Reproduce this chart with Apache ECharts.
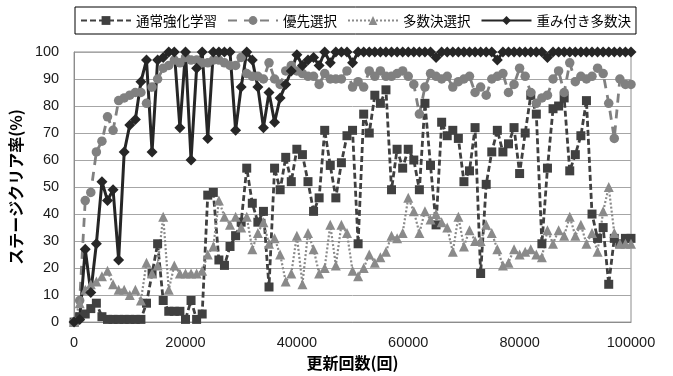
<!DOCTYPE html>
<html>
<head>
<meta charset="utf-8">
<script src="https://cdn.jsdelivr.net/npm/echarts@6/dist/echarts.min.js"></script>
<style>
html,body{margin:0;padding:0;background:#fff;}
#c{width:673px;height:376px;}
</style>
</head>
<body>
<div id="c"></div>
<script>
// x positions: update counts 0..100000 every 1000
const updates = Array.from({length: 101}, (_, i) => i * 1000);
const xTicks = [0, 20000, 40000, 60000, 80000, 100000];
const yTicks = [0, 10, 20, 30, 40, 50, 60, 70, 80, 90, 100];
const seriesNames = ['通常強化学習', '優先選択', '多数決選択', '重み付き多数決'];

const normalRL = [
  0, 2, 3, 5, 7, 2, 1, 1, 1, 1,
  1, 1, 1, 7, 18, 29, 8, 4, 4, 4,
  1, 8, 1, 3, 47, 48, 23, 21, 28, 32,
  37, 57, 44, 37, 41, 13, 57, 49, 61, 52,
  64, 62, 52, 41, 46, 71, 58, 46, 59, 69,
  71, 29, 77, 70, 84, 81, 86, 49, 64, 57,
  64, 60, 49, 81, 58, 36, 74, 69, 71, 68,
  52, 56, 72, 18, 51, 63, 71, 63, 66, 72,
  55, 70, 84, 77, 29, 57, 79, 80, 83, 56,
  62, 69, 82, 40, 31, 35, 14, 31, 29, 31,
  31
];
const priority = [
  0, 8, 45, 48, 63, 67, 76, 71, 82, 83,
  84, 85, 85, 81, 87, 90, 94, 95, 97, 96,
  98, 97, 97, 96, 96, 97, 97, 96, 95, 95,
  98, 92, 91, 91, 90, 96, 90, 88, 93, 95,
  93, 92, 91, 91, 88, 92, 90, 90, 90, 93,
  87, 89, 87, 93, 91, 93, 91, 91, 92, 93,
  91, 88, 77, 87, 92, 91, 90, 91, 87, 89,
  90, 91, 85, 87, 84, 90, 91, 92, 85, 88,
  94, 91, 85, 81, 83, 84, 90, 93, 85, 96,
  89, 91, 90, 91, 94, 92, 81, 68, 90, 88,
  88
];
const majority = [
  0, 7, 12, 14, 15, 17, 19, 14, 12, 12,
  10, 12, 8, 22, 18, 21, 39, 12, 21, 18,
  18, 18, 18, 19, 25, 28, 45, 39, 36, 39,
  35, 39, 27, 33, 37, 29, 31, 25, 15, 18,
  32, 14, 33, 27, 18, 20, 36, 21, 36, 33,
  19, 17, 20, 25, 22, 24, 26, 32, 31, 33,
  46, 41, 33, 41, 38, 40, 37, 35, 26, 39,
  28, 34, 30, 30, 36, 33, 27, 21, 22, 27,
  25, 26, 27, 25, 24, 34, 29, 34, 32, 39,
  32, 36, 29, 33, 26, 41, 50, 33, 29, 29,
  29
];
const weighted = [
  0, 1, 27, 11, 29, 52, 45, 49, 23, 63,
  73, 75, 89, 97, 63, 97, 98, 100, 100, 72,
  100, 60, 94, 100, 68, 100, 100, 100, 100, 71,
  87, 100, 97, 87, 72, 85, 74, 83, 88, 93,
  99, 95, 97, 98, 95, 100, 96, 100, 100, 100,
  96, 100, 100, 100, 100, 100, 100, 100, 100, 100,
  100, 100, 100, 100, 100, 98, 100, 100, 100, 100,
  100, 100, 100, 100, 100, 100, 97, 100, 100, 100,
  100, 100, 100, 100, 100, 98, 100, 100, 100, 100,
  100, 100, 100, 100, 100, 100, 100, 100, 100, 100,
  100
];

const pairs = vals => updates.map((x, i) => [x, vals[i]]);

const chart = echarts.init(document.getElementById('c'), null, {renderer: 'canvas'});
const cjk = '"Noto Sans CJK JP", "Noto Sans", sans-serif';
const num = '"Liberation Sans", "DejaVu Sans", sans-serif';

chart.setOption({
  animation: false,
  backgroundColor: '#fff',
  grid: {
    left: 71, right: 42, top: 52, bottom: 53,
    show: true, borderColor: '#8c8c8c', borderWidth: 1, backgroundColor: 'transparent'
  },
  legend: {
    data: seriesNames,
    left: 75, top: 7,
    padding: [6, 5, 6, 5],
    itemGap: 10,
    itemWidth: 50, itemHeight: 11,
    borderColor: '#000', borderWidth: 1,
    textStyle: {fontFamily: cjk, fontSize: 13.5, color: '#000', lineHeight: 15}
  },
  xAxis: {
    type: 'value', min: 0, max: 100000, interval: 20000,
    name: '更新回数(回)', nameLocation: 'middle', nameGap: 29,
    nameTextStyle: {fontFamily: cjk, fontSize: 16, fontWeight: 'bold', color: '#000'},
    axisLine: {lineStyle: {color: '#8c8c8c'}},
    axisTick: {show: false},
    splitLine: {show: false},
    axisLabel: {
      fontFamily: num, fontSize: 14.5, color: '#1a1a1a', margin: 13,
      customValues: xTicks,
      formatter: v => String(v)
    }
  },
  yAxis: {
    type: 'value', min: 0, max: 100, interval: 10,
    name: 'ステージクリア率(%)', nameLocation: 'middle', nameGap: 40, nameRotate: 90,
    nameTextStyle: {fontFamily: cjk, fontSize: 16, fontWeight: 'bold', color: '#000'},
    axisLine: {show: true, lineStyle: {color: '#8c8c8c'}},
    axisTick: {show: false},
    splitLine: {lineStyle: {color: '#a6a6a6', width: 1}},
    axisLabel: {fontFamily: num, fontSize: 14.5, color: '#1a1a1a', margin: 15, customValues: yTicks,
      formatter: v => String(v)}
  },
  series: [
    {
      name: seriesNames[0], type: 'line', data: pairs(normalRL),
      symbol: 'rect', symbolSize: 9, showAllSymbol: true,
      itemStyle: {color: '#404040'},
      lineStyle: {color: '#404040', width: 2.8, type: [6, 3]}
    },
    {
      name: seriesNames[1], type: 'line', data: pairs(priority),
      symbol: 'circle', symbolSize: 9.5, showAllSymbol: true,
      itemStyle: {color: '#808080'},
      lineStyle: {color: '#808080', width: 2.8, type: [9, 7]}
    },
    {
      name: seriesNames[2], type: 'line', data: pairs(majority),
      symbol: 'triangle', symbolSize: 10, showAllSymbol: true,
      itemStyle: {color: '#8a8a8a'},
      lineStyle: {color: '#8a8a8a', width: 2.2, type: [2, 2]}
    },
    {
      name: seriesNames[3], type: 'line', data: pairs(weighted),
      symbol: 'diamond', symbolSize: 11, showAllSymbol: true,
      itemStyle: {color: '#262626'},
      lineStyle: {color: '#262626', width: 3, type: 'solid'}
    }
  ]
});
</script>
</body>
</html>
